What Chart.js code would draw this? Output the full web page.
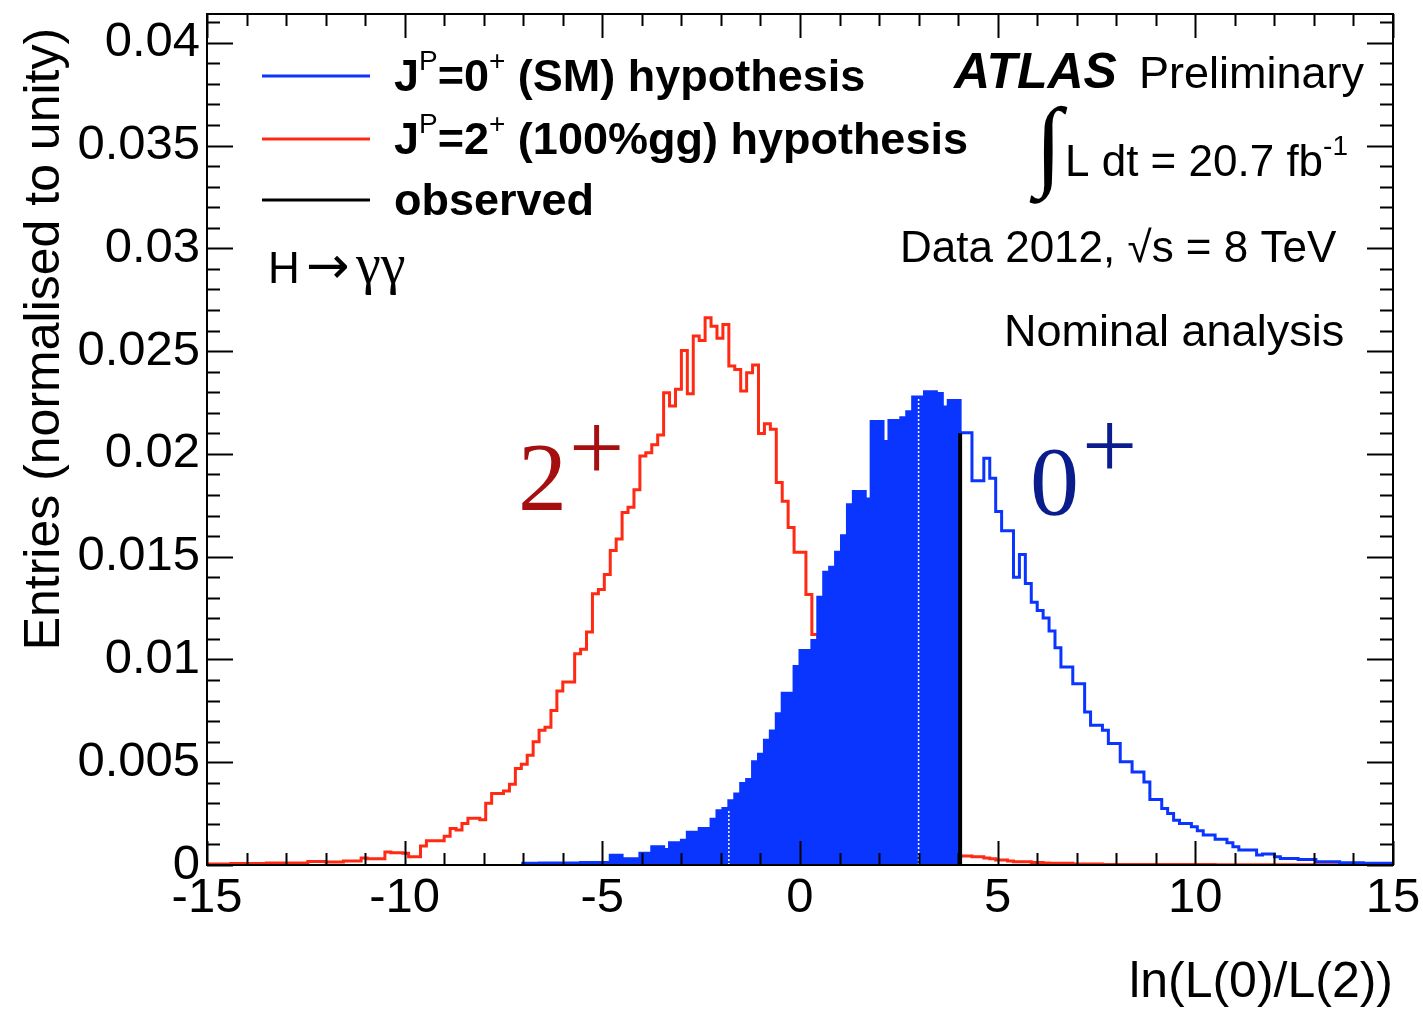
<!DOCTYPE html>
<html>
<head>
<meta charset="utf-8">
<script src="https://cdn.jsdelivr.net/npm/chart.js@4.4.1/dist/chart.umd.min.js"></script>
<style>
  html, body { margin: 0; padding: 0; background: #fff; }
  #wrap { width: 1423px; height: 1013px; }
</style>
</head>
<body>
<div id="wrap"><canvas id="chart" width="1423" height="1013"></canvas></div>
<script>
// ln(L(0)/L(2)) binning: 200 bins of 0.15 between -15 and 15
const xMin = -15, xMax = 15, binWidth = 0.15;
const yMin = 0, yMax = 0.0414;
const xTickStep = 5, xMinorStep = 1;
const yTickStep = 0.005, yMinorStep = 0.001;

// observed value of the test statistic and the height of its marker
const observed = 4.05;
const observedTop = 0.0210;

// seams left in the filled area (white dotted lines in the original)
const fillSeams = [-1.8, 3.0];

// J^P = 2+ (100% gg) pseudo-experiments, one value per bin
const spin2 = [
  0.00005, 0.00005, 0.00005, 0.00005, 0.00007, 0.00007, 0.00007, 0.00007, 0.00007, 0.00007,
  0.0001, 0.0001, 0.0001, 0.0001, 0.0001, 0.0001, 0.0001, 0.00017, 0.00017, 0.00017,
  0.00015, 0.00015, 0.00015, 0.0002, 0.0002, 0.0002, 0.00034, 0.0003, 0.0003, 0.0003,
  0.00063, 0.0006, 0.0006, 0.00057, 0.0004, 0.0004, 0.00092, 0.00118, 0.00118, 0.00118,
  0.0014, 0.00178, 0.0017, 0.00202, 0.00227, 0.00227, 0.0022, 0.003, 0.00348, 0.00348,
  0.0036, 0.00393, 0.0047, 0.0049, 0.00534, 0.006, 0.00655, 0.0067, 0.00752, 0.00846,
  0.0089, 0.0089, 0.01028, 0.0105, 0.01133, 0.01319, 0.0134, 0.01413, 0.0153, 0.01586,
  0.01715, 0.0174, 0.01825, 0.0199, 0.02006, 0.02044, 0.02092, 0.02298, 0.02233, 0.02314,
  0.02503, 0.02293, 0.02573, 0.02552, 0.02662, 0.02621, 0.02562, 0.0263, 0.02427, 0.02411,
  0.02306, 0.02395, 0.02432, 0.02099, 0.02147, 0.0212, 0.01861, 0.01769, 0.01642, 0.01521,
  0.01521, 0.01316, 0.01121, 0.0100, 0.0091, 0.0082, 0.0074, 0.0066, 0.0058, 0.0052,
  0.0045, 0.0040, 0.0034, 0.0030, 0.0026, 0.0022, 0.0019, 0.0016, 0.0014, 0.0012,
  0.0010, 0.0009, 0.0008, 0.0007, 0.0006, 0.0005, 0.0005, 0.00044, 0.00044, 0.0004,
  0.0004, 0.00034, 0.0003, 0.00024, 0.00024, 0.0002, 0.00016, 0.00016, 0.00016, 0.00012,
  0.00012, 0.0001, 0.00008, 0.00008, 0.00008, 0.00008, 0.00005, 0.00005, 0.00005, 0.00005,
  0.00005, 0.00003, 0.00003, 0.00003, 0.00003, 0.00003, 0.00003, 0.00003, 0.00003, 0.00003,
  0.00002, 0.00002, 0.00002, 0.00002, 0.00002, 0.00002, 0.00002, 0.00002, 0.00002, 0.00002,
  0.00001, 0.00001, 0.00001, 0.00001, 0.00001, 0.00001, 0.00001, 0.00001, 0.00001, 0.00001,
  0.00001, 0.00001, 0.00001, 0.00001, 0.00001, 0.00001, 0.00001, 0.00001, 0.00001, 0.00001,
  0.00001, 0.00001, 0.00001, 0.00001, 0.00001, 0.00001, 0.00001, 0.00001, 0.00001, 0.00001
];

// J^P = 0+ (SM) pseudo-experiments, null where the histogram is empty
const spin0 = [
  null, null, null, null, null, null, null, null, null, null,
  null, null, null, null, null, null, null, null, null, null,
  null, null, null, null, null, null, null, null, null, null,
  null, null, null, null, null, null, null, null, null, null,
  null, null, null, null, null, null, null, null, null, null,
  null, null, null, 0.00008, 0.00008, 0.00008, 0.0001, 0.0001, 0.0001, 0.0001,
  0.0001, 0.0001, 0.0001, 0.00012, 0.00012, 0.00012, 0.00012, 0.00012, 0.00047, 0.00047,
  0.0003, 0.0003, 0.0003, 0.00057, 0.00057, 0.00089, 0.00089, 0.00076, 0.00108, 0.00108,
  0.00121, 0.00159, 0.00159, 0.00178, 0.00178, 0.00222, 0.00264, 0.00275, 0.00312, 0.00345,
  0.00397, 0.00416, 0.00502, 0.00539, 0.00607, 0.00652, 0.00736, 0.00836, 0.00836, 0.00966,
  0.01044, 0.01044, 0.01092, 0.01302, 0.01424, 0.01448, 0.01521, 0.01602, 0.01752, 0.01817,
  0.01817, 0.0178, 0.02157, 0.02157, 0.0206, 0.02163, 0.02163, 0.02176, 0.02205, 0.02277,
  0.02277, 0.02302, 0.02302, 0.02294, 0.02228, 0.0226, 0.0226, 0.02103, 0.02103, 0.01869,
  0.01869, 0.01979, 0.01882, 0.0172, 0.01626, 0.01626, 0.014, 0.0151, 0.0137, 0.01278,
  0.01238, 0.01202, 0.01138, 0.01057, 0.00963, 0.00963, 0.00882, 0.00882, 0.00744, 0.0068,
  0.0068, 0.00655, 0.00591, 0.00591, 0.00502, 0.00502, 0.00453, 0.00453, 0.00404, 0.00319,
  0.00319, 0.00275, 0.00251, 0.00218, 0.00202, 0.00202, 0.00186, 0.00167, 0.00146, 0.00146,
  0.00125, 0.00125, 0.00108, 0.00089, 0.00073, 0.00073, 0.00073, 0.00049, 0.00053, 0.00053,
  0.0004, 0.00032, 0.00032, 0.00032, 0.00027, 0.00027, 0.00027, 0.00016, 0.00016, 0.00016,
  0.00016, 0.00011, 0.00011, 0.00011, 0.00011, 0.00008, 0.00008, 0.00008, 0.00008, 0.00008
];

const BLUE = '#0a35ff';
const RED = '#ff2a14';
const SANS = "'Liberation Sans', Arial, Helvetica, sans-serif";
const SERIF = "'Liberation Serif', 'Times New Roman', serif";

const binEdge = i => xMin + i * binWidth;

// step outline: one point per filled bin plus the closing edge
function stepPoints(values, upTo) {
  const pts = [];
  let last = null;
  values.forEach((v, i) => {
    const e = binEdge(i);
    if (v === null || e >= upTo - 1e-9) return;
    pts.push({ x: e, y: v });
    last = v;
  });
  if (last !== null) pts.push({ x: upTo, y: last });
  return pts;
}

const seamSets = fillSeams.map(s => {
  const k = Math.round((s - xMin) / binWidth);
  const h = Math.min(spin0[k - 1], spin0[k]);
  return {
    data: [{ x: s, y: 0 }, { x: s, y: h }],
    borderColor: '#ffffff', borderWidth: 1.5, borderDash: [2, 2],
    pointRadius: 0, fill: false, order: 3
  };
});

// ROOT style frame with inward ticks on all four sides
const framePlugin = {
  id: 'frame',
  afterDatasetsDraw(chart) {
    const { ctx, chartArea: a, scales: { x, y } } = chart;
    ctx.save();
    ctx.strokeStyle = '#000';
    ctx.lineWidth = 2;
    ctx.beginPath();
    const nx = Math.round((xMax - xMin) / xMinorStep);
    for (let i = 0; i <= nx; i++) {
      const v = xMin + i * xMinorStep;
      const len = (Math.abs(v % xTickStep) < 1e-9) ? 24 : 12;
      const px = Math.round(x.getPixelForValue(v)) + 0.5;
      ctx.moveTo(px, a.bottom); ctx.lineTo(px, a.bottom - len);
      ctx.moveTo(px, a.top); ctx.lineTo(px, a.top + len);
    }
    const ny = Math.floor((yMax - yMin) / yMinorStep + 1e-6);
    for (let i = 0; i <= ny; i++) {
      const v = yMin + i * yMinorStep;
      const len = (i % Math.round(yTickStep / yMinorStep) === 0) ? 26 : 13;
      const py = Math.round(y.getPixelForValue(v)) + 0.5;
      ctx.moveTo(a.left, py); ctx.lineTo(a.left + len, py);
      ctx.moveTo(a.right, py); ctx.lineTo(a.right - len, py);
    }
    ctx.stroke();
    ctx.strokeRect(a.left, a.top, a.right - a.left, a.bottom - a.top);
    ctx.restore();
  }
};

function runs(ctx, x, y, parts) {
  for (const [text, font, dy] of parts) {
    ctx.font = font;
    ctx.fillText(text, x, y + (dy || 0));
    x += ctx.measureText(text).width;
  }
  return x;
}

const B45 = 'bold 45px ' + SANS;
const R44 = '44px ' + SANS;
const R28 = '28px ' + SANS;

const legendItems = [
  { color: BLUE, y: 76, parts: [['J', B45], ['P', R28, -21], ['=0', B45], ['+', R28, -21], [' (SM) hypothesis', B45]] },
  { color: RED, y: 139, parts: [['J', B45], ['P', R28, -21], ['=2', B45], ['+', R28, -21], [' (100%gg) hypothesis', B45]] },
  { color: '#000', y: 200, parts: [['observed', B45]] }
];

const textPlugin = {
  id: 'texts',
  afterDraw(chart) {
    const ctx = chart.ctx;
    ctx.save();
    ctx.textBaseline = 'alphabetic';
    ctx.textAlign = 'left';

    legendItems.forEach(it => {
      ctx.strokeStyle = it.color;
      ctx.lineWidth = 3;
      ctx.beginPath(); ctx.moveTo(262, it.y); ctx.lineTo(370, it.y); ctx.stroke();
      ctx.fillStyle = '#000';
      runs(ctx, 394, it.y + 15, it.parts);
    });

    ctx.fillStyle = '#000';
    runs(ctx, 954, 88, [['ATLAS', 'italic bold 50px ' + SANS]]);
    runs(ctx, 1139, 88, [['Preliminary', '45px ' + SANS]]);
    ctx.font = '100px ' + SERIF;
    ctx.fillText('\u222B', 1035, 177);
    runs(ctx, 1065, 176, [['L dt = 20.7 fb', R44], ['-1', R28, -21]]);
    runs(ctx, 900, 262, [['Data 2012, \u221As = 8 TeV', R44]]);
    runs(ctx, 1004, 346, [['Nominal analysis', '45px ' + SANS]]);

    runs(ctx, 268, 283, [['H', R44]]);
    runs(ctx, 306, 283, [['\u2192', '52px ' + "'DejaVu Sans', sans-serif"]]);
    runs(ctx, 356, 283, [['\u03B3\u03B3', '56px ' + SERIF]]);

    ctx.fillStyle = '#a50f0f';
    runs(ctx, 518, 510, [['2', '98px ' + SERIF]]);
    runs(ctx, 569, 480, [['+', '98px ' + SERIF]]);
    ctx.fillStyle = '#0b1d8c';
    runs(ctx, 1030, 514, [['0', '98px ' + SERIF]]);
    runs(ctx, 1082, 478, [['+', '98px ' + SERIF]]);
    ctx.restore();
  }
};

new Chart(document.getElementById('chart'), {
  type: 'line',
  data: {
    datasets: [
      { label: 'observed', data: [{ x: observed, y: 0 }, { x: observed, y: observedTop }],
        borderColor: '#000', borderWidth: 4, pointRadius: 0, fill: false, order: 1 },
      { label: '0+ line', data: stepPoints(spin0, xMax), stepped: 'before',
        borderColor: BLUE, borderWidth: 3, pointRadius: 0, fill: false, order: 2 },
      ...seamSets,
      { label: '0+ below observed', data: stepPoints(spin0, observed), stepped: 'before',
        borderWidth: 0, borderColor: BLUE, backgroundColor: BLUE, pointRadius: 0, fill: 'origin', order: 4 },
      { label: '2+ line', data: stepPoints(spin2, xMax), stepped: 'before',
        borderColor: RED, borderWidth: 3, pointRadius: 0, fill: false, order: 5 }
    ]
  },
  options: {
    responsive: false,
    animation: false,
    devicePixelRatio: 1,
    layout: { padding: { top: 14, right: 30, left: 0, bottom: 0 } },
    plugins: { legend: { display: false }, tooltip: { enabled: false } },
    elements: { line: { tension: 0, borderJoinStyle: 'miter' } },
    scales: {
      x: {
        type: 'linear', min: xMin, max: xMax,
        grid: { display: false, drawTicks: false },
        border: { display: false },
        ticks: {
          stepSize: xTickStep, autoSkip: false, maxRotation: 0, padding: 4,
          color: '#000', font: { family: SANS, size: 49 },
          callback: v => String(v)
        },
        title: {
          display: true, text: 'ln(L(0)/L(2))', align: 'end', color: '#000',
          font: { family: SANS, size: 50 }, padding: { top: 0, bottom: 0 }
        },
        afterFit(s) { s.height = 148; s.paddingLeft = 0; s.paddingRight = 0; }
      },
      y: {
        type: 'linear', min: yMin, max: yMax,
        grid: { display: false, drawTicks: false },
        border: { display: false },
        ticks: {
          stepSize: yTickStep, includeBounds: false, padding: 7,
          color: '#000', font: { family: SANS, size: 49 },
          callback: v => String(parseFloat(v.toFixed(3)))
        },
        title: {
          display: true, text: 'Entries (normalised to unity) ', align: 'end', color: '#000',
          font: { family: SANS, size: 50 }, padding: { top: 15, bottom: 0 }
        },
        afterFit(s) { s.width = 207; s.paddingTop = 0; s.paddingBottom = 0; }
      }
    }
  },
  plugins: [framePlugin, textPlugin]
});
</script>
</body>
</html>
